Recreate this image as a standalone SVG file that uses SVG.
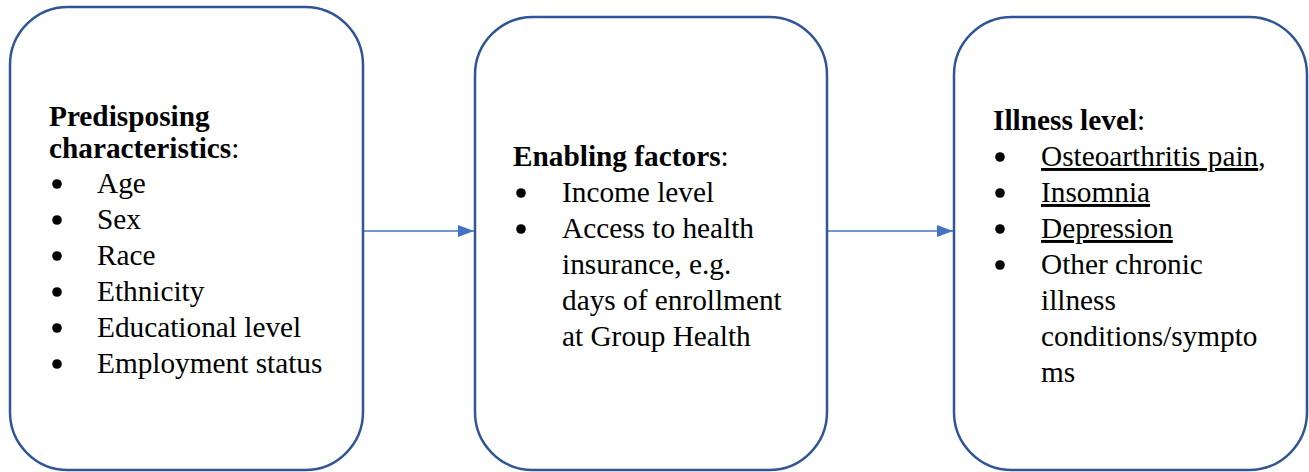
<svg xmlns="http://www.w3.org/2000/svg" width="1309" height="472" viewBox="0 0 1309 472">
  <style>
    .box { fill: #ffffff; stroke: #2F5597; stroke-width: 2.5; }
    .link { fill: none; stroke: #4472C4; stroke-width: 1.6; }
    .txt { font-family: 'Liberation Serif', Tinos, 'Times New Roman', 'DejaVu Serif', serif; font-size: 29.3px; fill: #000000; }
    .head { font-weight: bold; }
    .ul { text-decoration: underline; }
    .dot { fill: #000000; }
  </style>
  <defs>
    <marker id="arrowhead" viewBox="0 0 16 12" refX="16" refY="6" markerWidth="16" markerHeight="12" markerUnits="userSpaceOnUse" orient="auto">
      <path d="M0,0 L16,6 L0,12 z" fill="#4472C4"/>
    </marker>
  </defs>

  <!-- connectors -->
  <g id="connectors">
    <line class="link" x1="364" y1="231" x2="474" y2="231" marker-end="url(#arrowhead)"/>
    <line class="link" x1="828" y1="231" x2="953" y2="231" marker-end="url(#arrowhead)"/>
  </g>

  <!-- predisposing characteristics -->
  <g id="predisposing" class="txt" font-family="Liberation Serif, Tinos, Times New Roman, serif">
    <rect class="box" x="10" y="7" width="353" height="463" rx="58" ry="58"/>
    <text x="49" y="126"><tspan class="head">Predisposing</tspan></text>
    <text x="49" y="158"><tspan class="head">characteristics</tspan>:</text>
    <circle class="dot" cx="57" cy="184" r="4.8"/><text x="97" y="193">Age</text>
    <circle class="dot" cx="57" cy="220" r="4.8"/><text x="97" y="229">Sex</text>
    <circle class="dot" cx="57" cy="256" r="4.8"/><text x="97" y="265">Race</text>
    <circle class="dot" cx="57" cy="292" r="4.8"/><text x="97" y="301">Ethnicity</text>
    <circle class="dot" cx="57" cy="328" r="4.8"/><text x="97" y="337">Educational level</text>
    <circle class="dot" cx="57" cy="364" r="4.8"/><text x="97" y="373">Employment status</text>
  </g>

  <!-- enabling factors -->
  <g id="enabling" class="txt" font-family="Liberation Serif, Tinos, Times New Roman, serif">
    <rect class="box" x="475" y="17" width="352" height="453" rx="58" ry="58"/>
    <text x="513" y="166"><tspan class="head">Enabling factors</tspan>:</text>
    <circle class="dot" cx="521" cy="193" r="4.8"/><text x="562" y="202">Income level</text>
    <circle class="dot" cx="521" cy="229" r="4.8"/><text x="562" y="238">Access to health</text>
    <text x="562" y="274">insurance, e.g.</text>
    <text x="562" y="310">days of enrollment</text>
    <text x="562" y="346">at Group Health</text>
  </g>

  <!-- illness level -->
  <g id="illness" class="txt" font-family="Liberation Serif, Tinos, Times New Roman, serif">
    <rect class="box" x="954" y="17" width="353" height="453" rx="58" ry="58"/>
    <text x="993" y="130"><tspan class="head">Illness level</tspan>:</text>
    <circle class="dot" cx="1000" cy="157" r="4.8"/><text x="1041" y="166"><tspan class="ul">Osteoarthritis pain</tspan>,</text>
    <circle class="dot" cx="1000" cy="193" r="4.8"/><text x="1041" y="202" class="ul">Insomnia</text>
    <circle class="dot" cx="1000" cy="229" r="4.8"/><text x="1041" y="238" class="ul">Depression</text>
    <circle class="dot" cx="1000" cy="265" r="4.8"/><text x="1041" y="274">Other chronic</text>
    <text x="1041" y="310">illness</text>
    <text x="1041" y="346">conditions/sympto</text>
    <text x="1041" y="382">ms</text>
  </g>
</svg>
